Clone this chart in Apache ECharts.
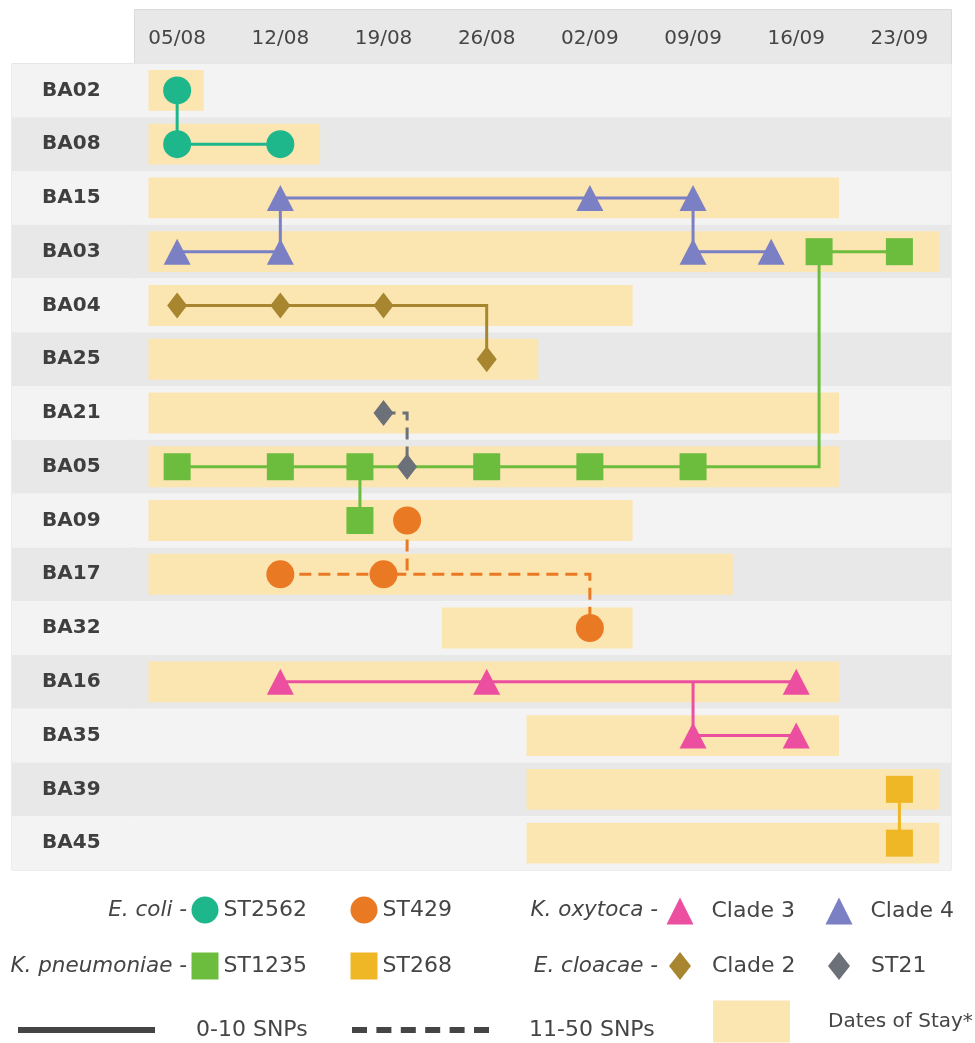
<!DOCTYPE html>
<html>
<head>
<meta charset="utf-8">
<script src="https://cdn.jsdelivr.net/npm/echarts@6/dist/echarts.min.js"></script>
<style>
  html, body { margin: 0; padding: 0; background: #fff; }
  #chart { width: 975px; height: 1043px; }
</style>
</head>
<body>
<div id="chart"></div>
<script>
// patients, top to bottom
const patients = ['BA02', 'BA08', 'BA15', 'BA03', 'BA04', 'BA25', 'BA21', 'BA05',
  'BA09', 'BA17', 'BA32', 'BA16', 'BA35', 'BA39', 'BA45'];

// x values are days counted from 05/08
const tickDays = [0, 7, 14, 21, 28, 35, 42, 49];
const tickLabels = ['05/08', '12/08', '19/08', '26/08', '02/09', '09/09', '16/09', '23/09'];

// dates of stay: [patient, from, to]
const stays = [
  ['BA02', -1.95, 1.8],
  ['BA08', -1.95, 9.7],
  ['BA15', -1.95, 44.9],
  ['BA03', -1.95, 51.7],
  ['BA04', -1.95, 30.9],
  ['BA25', -1.95, 24.5],
  ['BA21', -1.95, 44.9],
  ['BA05', -1.95, 44.9],
  ['BA09', -1.95, 30.9],
  ['BA17', -1.95, 37.7],
  ['BA32', 17.95, 30.9],
  ['BA16', -1.95, 44.9],
  ['BA35', 23.7, 44.9],
  ['BA39', 23.7, 51.7],
  ['BA45', 23.7, 51.7]
];

// isolates: [day, patient]
const ecoliST2562 = [[0, 'BA02'], [0, 'BA08'], [7, 'BA08']];
const ecoliST429 = [[15.6, 'BA09'], [7, 'BA17'], [14, 'BA17'], [28, 'BA32']];
const koxyClade3 = [[7, 'BA16'], [21, 'BA16'], [42, 'BA16'], [35, 'BA35'], [42, 'BA35']];
const koxyClade4 = [[7, 'BA15'], [28, 'BA15'], [35, 'BA15'], [0, 'BA03'], [7, 'BA03'], [35, 'BA03'], [40.3, 'BA03']];
const kpnST1235 = [[43.55, 'BA03'], [49, 'BA03'], [0, 'BA05'], [7, 'BA05'], [12.4, 'BA05'],
  [21, 'BA05'], [28, 'BA05'], [35, 'BA05'], [12.4, 'BA09']];
const kpnST268 = [[49, 'BA39'], [49, 'BA45']];
const eclClade2 = [[0, 'BA04'], [7, 'BA04'], [14, 'BA04'], [21, 'BA25']];
const eclST21 = [[14, 'BA21'], [15.6, 'BA05']];

// links between isolates: [type, path]
const links010 = [
  ['ST2562', [[0, 'BA02'], [0, 'BA08'], [7, 'BA08']]],
  ['Clade 4', [[0, 'BA03'], [7, 'BA03'], [7, 'BA15'], [35, 'BA15'], [35, 'BA03'], [40.3, 'BA03']]],
  ['ST1235', [[49, 'BA03'], [43.55, 'BA03'], [43.55, 'BA05'], [0, 'BA05']]],
  ['ST1235', [[12.4, 'BA05'], [12.4, 'BA09']]],
  ['Clade 2', [[0, 'BA04'], [21, 'BA04'], [21, 'BA25']]],
  ['Clade 3', [[7, 'BA16'], [42, 'BA16']]],
  ['Clade 3', [[35, 'BA16'], [35, 'BA35'], [42, 'BA35']]],
  ['ST268', [[49, 'BA39'], [49, 'BA45']]]
];
const links1150 = [
  ['ST21', [[14, 'BA21'], [15.6, 'BA21'], [15.6, 'BA05']]],
  ['ST429', [[7, 'BA17'], [28, 'BA17'], [28, 'BA32']]],
  ['ST429', [[15.6, 'BA09'], [15.6, 'BA17']]]
];

const colors = {
  'ST2562': '#1db78b', 'ST429': '#e97a23', 'Clade 3': '#ec4f9f', 'Clade 4': '#7b7fc3',
  'ST1235': '#6cbc3e', 'ST268': '#efb726', 'Clade 2': '#a8862f', 'ST21': '#6b7079'
};
const stayColor = '#fbe5b1';
const ink = '#454545';
const font = 'DejaVu Sans';

const rowOf = p => patients.indexOf(p);
const toXY = list => list.map(([d, p]) => [d, rowOf(p)]);

function markers(name, data, symbol, size) {
  return {
    type: 'scatter', name, symbol, symbolSize: size, z: 5, silent: true,
    xAxisIndex: 0, yAxisIndex: 0,
    itemStyle: { color: colors[name], opacity: 1 },
    data: toXY(data)
  };
}

function linkSeries(name, list, dash) {
  return {
    type: 'lines', name, coordinateSystem: 'cartesian2d', xAxisIndex: 0, yAxisIndex: 0,
    polyline: true, z: 4, silent: true,
    lineStyle: { width: 3, type: dash, color: ink, opacity: 1, curveness: 0 },
    data: list.map(([g, path]) => ({ coords: toXY(path), lineStyle: { color: colors[g] } }))
  };
}

function key(name, left, top, w, h, textPad, extra) {
  return Object.assign({
    left, top, padding: 0, itemWidth: w, itemHeight: h, selectedMode: false,
    data: [{ name }],
    textStyle: { fontFamily: font, fontSize: 22, color: ink, padding: textPad }
  }, extra || {});
}

const dashPath = 'path://M0,0h13v4h-13zM24.4,0h13v4h-13zM48.8,0h13v4h-13zM73.2,0h13v4h-13zM97.6,0h13v4h-13zM122,0h13v4h-13z';

const chart = echarts.init(document.getElementById('chart'));

chart.setOption({
  animation: false,
  backgroundColor: '#fff',
  grid: [
    { left: 135, right: 24, top: 63.5, bottom: 173, show: true, borderColor: '#d9d9d9', borderWidth: 1 },
    { left: 12, width: 123, top: 63.5, bottom: 173, show: true, borderColor: '#d9d9d9', borderWidth: 1 }
  ],
  xAxis: [
    {
      gridIndex: 0, type: 'value', position: 'top', min: -2.86, max: 52.5,
      axisLine: { show: false }, axisTick: { show: false }, splitLine: { show: false },
      axisLabel: {
        customValues: tickDays, margin: 15,
        formatter: v => tickLabels[tickDays.indexOf(v)],
        fontFamily: font, fontSize: 20, color: ink
      }
    },
    { gridIndex: 1, type: 'value', show: false }
  ],
  yAxis: [
    {
      gridIndex: 0, type: 'category', data: patients, inverse: true,
      axisLine: { show: false }, axisTick: { show: false }, axisLabel: { show: false },
      splitLine: { show: false },
      splitArea: { show: true, areaStyle: { color: ['#f4f3f4', '#e8e8e8'] } }
    },
    {
      gridIndex: 1, type: 'category', data: patients, inverse: true,
      axisLine: { show: false }, axisTick: { show: false }, splitLine: { show: false },
      axisLabel: { inside: true, margin: 30, fontFamily: font, fontSize: 20, fontWeight: 'bold', color: '#3f3f3f' },
      splitArea: { show: true, areaStyle: { color: ['#f4f3f4', '#e8e8e8'] } }
    }
  ],
  graphic: [
    { type: 'rect', z: -5, shape: { x: 134.5, y: 9.5, width: 817, height: 54 },
      style: { fill: '#e8e8e8', stroke: '#dadada', lineWidth: 1 } },
    { type: 'text', x: 187, y: 910, style: { text: 'E. coli -', align: 'right', verticalAlign: 'middle',
      fontFamily: font, fontStyle: 'italic', fontSize: 21.5, fill: ink } },
    { type: 'text', x: 187, y: 966, style: { text: 'K. pneumoniae -', align: 'right', verticalAlign: 'middle',
      fontFamily: font, fontStyle: 'italic', fontSize: 21.5, fill: ink } },
    { type: 'text', x: 658, y: 910, style: { text: 'K. oxytoca -', align: 'right', verticalAlign: 'middle',
      fontFamily: font, fontStyle: 'italic', fontSize: 21.5, fill: ink } },
    { type: 'text', x: 658, y: 966, style: { text: 'E. cloacae -', align: 'right', verticalAlign: 'middle',
      fontFamily: font, fontStyle: 'italic', fontSize: 21.5, fill: ink } }
  ],
  legend: [
    key('ST2562', 191.5, 896.5, 27, 27, 0),
    key('ST429', 350.5, 896.5, 27, 27, 0),
    key('Clade 3', 666.5, 897.5, 27, 27, [0, 0, 0, 13]),
    key('Clade 4', 825.5, 897.5, 27, 27, [0, 0, 0, 13]),
    key('ST1235', 191.5, 952.5, 27, 27, 0),
    key('ST268', 350.5, 952.5, 27, 27, 0),
    key('Clade 2', 669, 952, 22, 28, [0, 0, 0, 16]),
    key('ST21', 828, 952, 22, 28, [0, 0, 0, 16]),
    key('0-10 SNPs', 18, 1019, 135, 4, [0, 0, 0, 37],
      { data: [{ name: '0-10 SNPs', icon: 'rect', itemStyle: { color: ink } }] }),
    key('11-50 SNPs', 352, 1019, 135, 4, [0, 0, 0, 36],
      { data: [{ name: '11-50 SNPs', icon: dashPath, itemStyle: { color: ink } }] }),
    key('Dates of Stay*', 713, 1000.5, 77, 42, [0, 0, 20, 33],
      { data: [{ name: 'Dates of Stay*', icon: 'rect' }],
        textStyle: { fontFamily: font, fontSize: 20, color: ink, padding: [0, 0, 20, 33] } })
  ],
  series: [
    {
      type: 'custom', name: 'Dates of Stay*', xAxisIndex: 0, yAxisIndex: 0, z: 2, silent: true,
      itemStyle: { color: stayColor },
      encode: { x: [1, 2], y: 0 },
      data: stays.map(([p, a, b]) => [rowOf(p), a, b]),
      renderItem: (params, api) => {
        const row = api.value(0);
        const p0 = api.coord([api.value(1), row]);
        const p1 = api.coord([api.value(2), row]);
        const h = api.size([0, 1])[1] * 0.76;
        return {
          type: 'rect',
          shape: { x: p0[0], y: p0[1] - h / 2, width: p1[0] - p0[0], height: h },
          style: api.style()
        };
      }
    },
    linkSeries('0-10 SNPs', links010, 'solid'),
    linkSeries('11-50 SNPs', links1150, [12, 7]),
    markers('ST2562', ecoliST2562, 'circle', 28),
    markers('ST429', ecoliST429, 'circle', 28),
    markers('Clade 3', koxyClade3, 'triangle', [27, 26]),
    markers('Clade 4', koxyClade4, 'triangle', [27, 26]),
    markers('ST1235', kpnST1235, 'rect', 27),
    markers('ST268', kpnST268, 'rect', 27),
    markers('Clade 2', eclClade2, 'diamond', [20, 26]),
    markers('ST21', eclST21, 'diamond', [20, 26])
  ]
});
</script>
</body>
</html>
